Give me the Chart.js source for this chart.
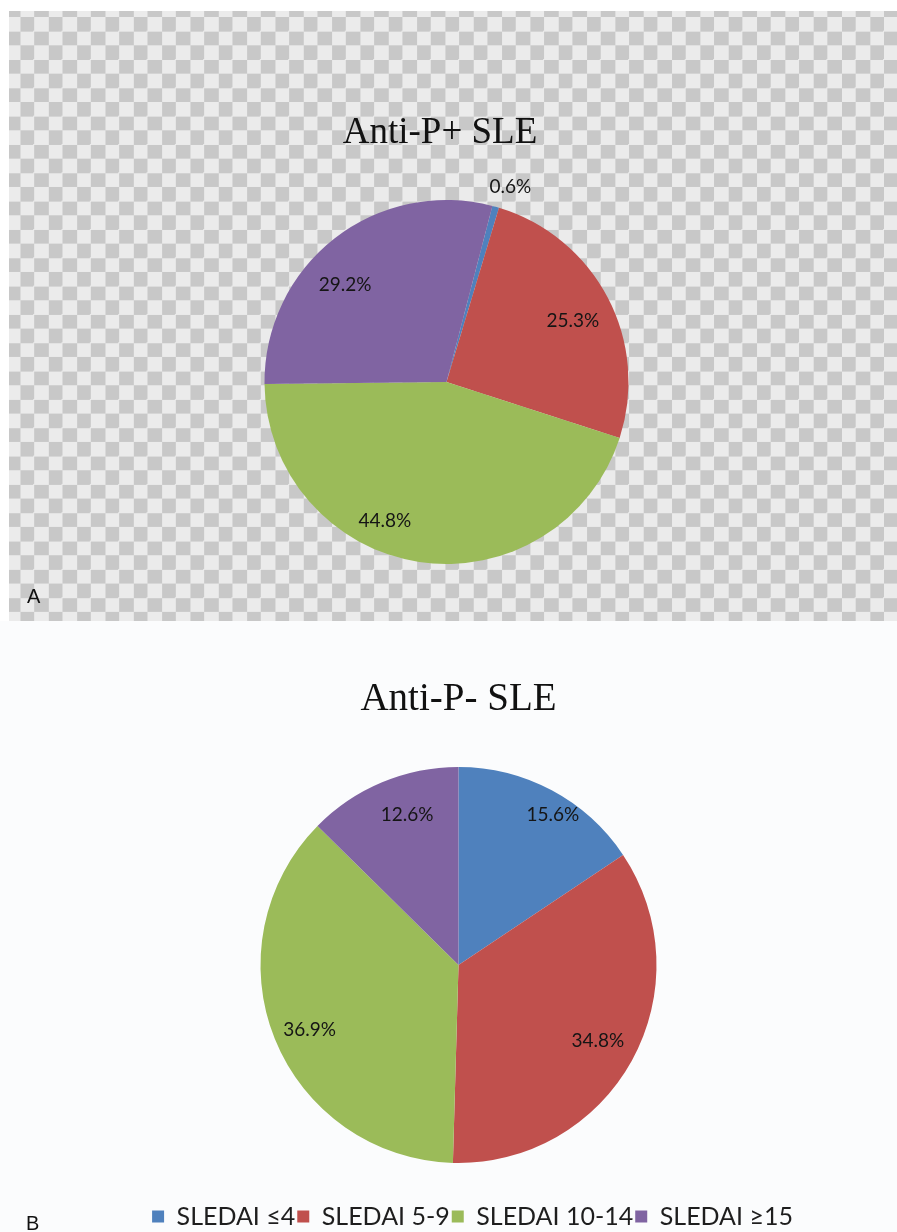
<!DOCTYPE html>
<html>
<head>
<meta charset="utf-8">
<script src="https://cdn.jsdelivr.net/npm/chart.js@4"></script>
<style>
  html, body { margin: 0; padding: 0; width: 897px; height: 1232px; overflow: hidden; background: #ffffff; }
  #panelA { position: absolute; left: 0; top: 0; width: 897px; height: 621px; }
  #checker {
    position: absolute; left: 9px; top: 11px; width: 888px; height: 610px;
    background-image: conic-gradient(#c8c8c8 0 25%, #ebebeb 0 50%, #c8c8c8 0 75%, #ebebeb 0);
    background-size: 28.34px 28.34px;
    background-position: -3.17px 6px;
  }
  #panelB { position: absolute; left: 0; top: 621px; width: 897px; height: 620px; background: #fbfcfd; }
  canvas { position: absolute; left: 0; top: 0; }
  .tag { position: absolute; font-family: "Liberation Sans", Arial, sans-serif; font-size: 20px; line-height: 20px; color: #111; }
</style>
</head>
<body>
<div id="panelA">
  <div id="checker"></div>
  <canvas id="chartA" width="897" height="621"></canvas>
  <div class="tag" style="left:27px; top:586px;">A</div>
</div>
<div id="panelB">
  <canvas id="chartB" width="897" height="620"></canvas>
  <div class="tag" style="left:26px; top:592px;">B</div>
</div>
<script>
// SLEDAI activity groups
const categories = ['SLEDAI \u22644', 'SLEDAI 5-9', 'SLEDAI 10-14', 'SLEDAI \u226515'];

// Share of patients (%) in each group
const antiPPositive = [0.6, 25.3, 44.8, 29.2];
const antiPNegative = [15.6, 34.8, 36.9, 12.6];

const titles = ['Anti-P+ SLE', 'Anti-P- SLE'];

const sliceColors = ['#4f81bd', '#c0504d', '#9bbb59', '#8064a2'];

// Draws the percentage of every slice near its arc, using the arc geometry
// computed by Chart.js (mid-angle, nudged per slice, at a fraction of the radius).
const sliceLabels = {
  id: 'sliceLabels',
  afterDatasetsDraw(chart, args, opts) {
    const { ctx } = chart;
    const meta = chart.getDatasetMeta(0);
    const values = chart.data.datasets[0].data;
    ctx.save();
    ctx.font = '19px Lato, "Open Sans", sans-serif';
    ctx.fillStyle = '#151515';
    ctx.textAlign = 'center';
    ctx.textBaseline = 'middle';
    meta.data.forEach((arc, i) => {
      const p = arc.getProps(['x', 'y', 'startAngle', 'endAngle', 'outerRadius'], true);
      const a = (p.startAngle + p.endAngle) / 2 + (opts.shift[i] || 0) * Math.PI / 180;
      const r = p.outerRadius * opts.radius[i];
      ctx.fillText(values[i].toFixed(1) + '%', p.x + r * Math.cos(a), p.y + r * Math.sin(a));
    });
    ctx.restore();
  }
};

const titleFont = (size) => ({ family: '"Liberation Serif", "Times New Roman", serif', size: size, weight: 'normal', lineHeight: 1.2 });

// An empty side box: it only narrows the plot area so the pie sits
// off the centre line shared by the title / legend.
const sideGap = (position, width) => ({
  display: true,
  text: '',
  position: position,
  fullSize: false,
  font: { size: 10, lineHeight: 1 },
  padding: { top: (width - 10) / 2, bottom: (width - 10) / 2 }
});

new Chart(document.getElementById('chartA'), {
  type: 'pie',
  data: {
    labels: categories,
    datasets: [{
      data: antiPPositive,
      backgroundColor: sliceColors,
      borderWidth: 0,
      hoverOffset: 0,
      rotation: 14.6,
      radius: 182
    }]
  },
  options: {
    responsive: false,
    animation: false,
    events: [],
    layout: { padding: { left: 0, right: 17, top: 0, bottom: 57 } },
    plugins: {
      legend: { display: false },
      tooltip: { enabled: false },
      title: {
        display: true,
        text: titles[0],
        color: '#111111',
        font: titleFont(37),
        padding: { top: 111, bottom: 44.6 }
      },
      subtitle: sideGap('left', 13),
      sliceLabels: {
        radius: [1.13, 0.77, 0.835, 0.77],
        shift: [2.4, 2.0, 15.3, -8.3]
      }
    }
  },
  plugins: [sliceLabels]
});

new Chart(document.getElementById('chartB'), {
  type: 'pie',
  data: {
    labels: categories,
    datasets: [{
      data: antiPNegative,
      backgroundColor: sliceColors,
      borderWidth: 0,
      hoverOffset: 0,
      rotation: 0,
      radius: 198
    }]
  },
  options: {
    responsive: false,
    animation: false,
    events: [],
    layout: { padding: { left: 48, right: 0, top: 0, bottom: 2 } },
    plugins: {
      tooltip: { enabled: false },
      title: {
        display: true,
        text: titles[1],
        color: '#111111',
        fullSize: false,
        font: titleFont(39),
        padding: { top: 55.6, bottom: 4.6 }
      },
      subtitle: sideGap('right', 28),
      legend: {
        display: true,
        position: 'bottom',
        align: 'center',
        labels: {
          color: '#1e1e1e',
          font: { family: 'Lato, "Open Sans", sans-serif', size: 25 },
          boxWidth: 12,
          boxHeight: 12,
          padding: 2
        }
      },
      sliceLabels: {
        radius: [0.895, 0.80, 0.82, 0.80],
        shift: [4.1, -0.5, -1.7, 3.8]
      }
    }
  },
  plugins: [sliceLabels]
});
</script>
</body>
</html>
